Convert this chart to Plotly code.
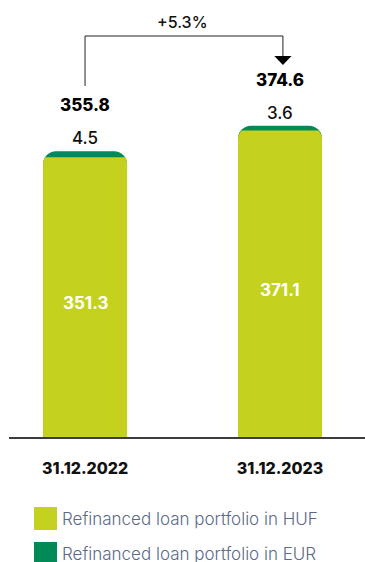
import plotly.graph_objects as go

# ---- data ----
categories = ["31.12.2022", "31.12.2023"]
huf = [351.3, 371.1]
eur = [4.5, 3.6]
totals = [355.8, 374.6]
change_label = "+5.3%"
legend_labels = ["Refinanced loan portfolio in HUF", "Refinanced loan portfolio in EUR"]

# ---- style ----
C_HUF = "#C4D21F"
C_EUR = "#008A57"
FONT = "Inter"
W, H = 365, 562
ML, MR, MT, MB = 9, 0, 0, 125
PLOT_H = H - MT - MB
PLOT_W = W - ML - MR
Y_RANGE = [145.2, 467.2]
X_RANGE = [-0.39, 1.436]
BAR_W = 0.431


def py(p):  # pixel row -> paper y
    return (H - MB - p) / PLOT_H


def px(p):  # pixel col -> paper x
    return (p - ML) / PLOT_W


fig = go.Figure()
fig.add_trace(go.Bar(x=categories, y=totals, width=BAR_W, marker=dict(color=C_EUR, cornerradius=13, line=dict(width=0)),
                     name=legend_labels[1], hoverinfo="skip"))
fig.add_trace(go.Bar(x=categories, y=huf, width=BAR_W, marker=dict(color=C_HUF, cornerradius=13, line=dict(width=0)),
                     name=legend_labels[0], hoverinfo="skip"))

ann = []
for i, c in enumerate(categories):
    # EUR value above bar
    ann.append(dict(x=c, y=totals[i], xref="x", yref="y", text=f"{eur[i]:.1f}", showarrow=False,
                    yanchor="middle", yshift=13, font=dict(family=FONT, size=17, color="#111111", weight=500)))
    # total value
    ann.append(dict(x=c, y=totals[i], xref="x", yref="y", text=f"{totals[i]:.1f}", showarrow=False,
                    yanchor="middle", yshift=46, font=dict(family=FONT, size=17, color="#000000", weight=800)))
    # HUF value inside
    ann.append(dict(x=c, y=(Y_RANGE[0] + huf[i]) / 2, xref="x", yref="y", text=f"{huf[i]:.1f}", showarrow=False,
                    yanchor="middle", yshift=-6, font=dict(family=FONT, size=17, color="#FFFFFF", weight=700)))

# change label
ann.append(dict(x=0.5, y=py(22), xref="x", yref="paper", text=change_label, showarrow=False, yanchor="middle",
                font=dict(family=FONT, size=16, color="#111111", weight=500)))

# legend (manual)
shapes = []
for j, (lab, col) in enumerate(zip(legend_labels, [C_HUF, C_EUR])):
    top = 507 + j * 35
    shapes.append(dict(type="rect", xref="paper", yref="paper", x0=px(34), x1=px(57), y0=py(top), y1=py(top + 23),
                       fillcolor=col, line=dict(width=0)))
    ann.append(dict(x=px(60), y=py(top + 12), xref="paper", yref="paper", text=lab, showarrow=False,
                    xanchor="left", yanchor="middle",
                    font=dict(family=FONT, size=17, color="#5C6A8A", weight=300)))

# bracket
LC = "#222222"
shapes.append(dict(type="path", xref="x", yref="paper",
                   path=f"M 0,{py(86)} L 0,{py(36)} L 1.015,{py(36)} L 1.015,{py(57)}",
                   line=dict(color=LC, width=1)))
shapes.append(dict(type="path", xref="x", yref="paper",
                   path=f"M {1.015-0.044},{py(56)} L {1.015+0.044},{py(56)} L 1.015,{py(65)} Z",
                   fillcolor="#000000", line=dict(width=0)))

fig.update_layout(
    width=W, height=H, autosize=False,
    margin=dict(l=ML, r=MR, t=MT, b=MB),
    barmode="overlay",
    showlegend=False,
    plot_bgcolor="white", paper_bgcolor="white",
    xaxis=dict(type="category", range=X_RANGE, showline=True, linecolor="#3C3C3C", linewidth=1.5,
               showgrid=False, zeroline=False, ticks="", ticklabelstandoff=16,
               tickfont=dict(family=FONT, size=16, color="#111111", weight=800), fixedrange=True),
    yaxis=dict(range=Y_RANGE, visible=False, fixedrange=True),
    annotations=ann,
    shapes=shapes,
)

fig.write_html("out.html")
